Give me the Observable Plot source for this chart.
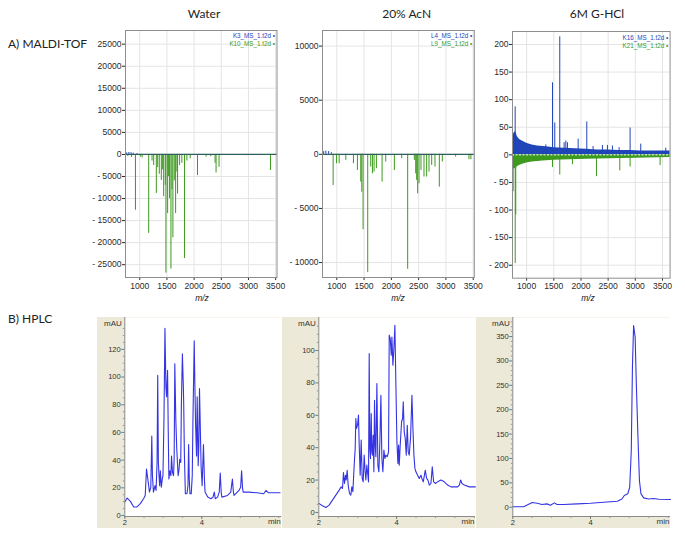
<!DOCTYPE html>
<html><head><meta charset="utf-8">
<script src="https://cdn.jsdelivr.net/npm/d3@7"></script>
<script src="https://cdn.jsdelivr.net/npm/@observablehq/plot@0.6"></script>
<style>
body{margin:0;background:#fff;}
#fig{position:relative;width:685px;height:536px;overflow:hidden;background:#fff;font-family:Lato,"Liberation Sans",sans-serif;}
.lbl{position:absolute;white-space:nowrap;color:#222;line-height:1;}
#fig svg{position:absolute;}
</style></head><body><div id="fig"></div>
<script>
// ---------- data ----------
const mzTicks = [1000, 1500, 2000, 2500, 3000, 3500];

// MALDI-TOF, Water
const waterGreenMz = [780,850,921,1012,1043,1165,1226,1256,1305,1330,1360,1397,1421,1440,1470,1482,1513,1531,1549,1574,1592,1610,1635,1660,1684,1696,1733,1775,1824,1867,1928,2062,2221,2306,2386,2404,2459,2954,3405];
const waterGreenInt = [-500,-700,-12650,-600,-800,-17900,-1500,-2500,-8840,-3000,-4500,-5900,-3500,-9600,-7000,-26900,-13400,-5000,-10000,-26000,-8000,-18900,-6000,-13400,-4000,-9000,-2500,-2000,-23600,-1500,-1000,-4800,-600,-500,-2000,-4200,-2900,-300,-3650];
const waterBlueMz = [760, 800, 840, 880, 950];
const waterBlueInt = [350, 450, 400, 300, 200];
const waterYTicks = [25000,20000,15000,10000,5000,0,-5000,-10000,-15000,-20000,-25000];

// MALDI-TOF, 20% AcN
const acnGreenMz = [933,994,1043,1165,1305,1378,1439,1458,1482,1567,1622,1653,1683,1726,1830,1897,2055,2190,2299,2421,2446,2464,2482,2507,2543,2598,2647,2690,2739,2800,2879,2934,3178,3422,3458];
const acnGreenInt = [-2880,-870,-870,-560,-870,-1490,-2570,-3500,-6970,-10930,-1180,-1800,-1640,-1330,-2570,-710,-1490,-400,-10620,-560,-1800,-2410,-3650,-2720,-1490,-2100,-2100,-1640,-1020,-1180,-3030,-710,-250,-500,-500];
const acnBlueMz = [760, 800, 850, 900];
const acnBlueInt = [250, 300, 250, 150];
const acnYTicks = [10000, 5000, 0, -5000, -10000];

// MALDI-TOF, 6M G-HCl
const ghclBlueMz = [789,1353,1476,1518,1610,1690,1721,1751,1948,2107,2223,2395,2487,2579,2702,2904,3100,3560];
const ghclBlueInt = [86.9,18,130.6,57.7,213.8,22,25,22,28.5,59.5,15,17,17,16,13,48.6,19.4,12];
const ghclGreenMz = [752,790,800,1476,1610,1843,2285,2714,2904,3456];
const ghclGreenInt = [-66.8,-197,-109,-23,-36.5,-18,-39.5,-29,-22,-19.5];
const ghclBlueNoiseMz = [740,770,800,830,870,920,1000,1100,1200,1300,1400,1500,1700,1900,2100,2300,2500,2700,2900,3100,3300,3500,3640];
const ghclBlueNoiseTop = [30,40,42,33,28,25,21,18,16,15,14,13,12,11,10,9,9,8,8,7,7,7,7];
const ghclGreenNoiseMz = [740,770,800,850,900,1000,1100,1300,1500,1800,2100,2500,3000,3640];
const ghclGreenNoiseBottom = [-20,-26,-24,-20,-18,-15,-13,-11,-10,-9,-8,-7,-6,-5];
const ghclYTicks = [200,150,100,50,0,-50,-100,-150,-200];

// HPLC, Water
const hplcWaterT = [2.000,2.060,2.145,2.231,2.316,2.402,2.487,2.530,2.564,2.598,2.641,2.675,2.701,2.718,2.744,2.786,2.812,2.838,2.855,2.872,2.889,2.906,2.923,2.949,2.974,2.991,3.017,3.043,3.068,3.085,3.111,3.128,3.145,3.171,3.197,3.214,3.239,3.265,3.282,3.299,3.325,3.350,3.385,3.410,3.427,3.453,3.470,3.496,3.521,3.530,3.547,3.573,3.615,3.641,3.658,3.675,3.692,3.726,3.752,3.769,3.803,3.821,3.838,3.863,3.880,3.906,3.923,3.940,3.966,3.983,4.009,4.043,4.068,4.085,4.154,4.239,4.291,4.325,4.350,4.410,4.453,4.479,4.504,4.521,4.667,4.752,4.795,4.821,4.838,4.966,5.009,5.034,5.060,5.077,5.222,5.436,5.607,5.667,5.735,6.034];
const hplcWaterV = [9.7,12.6,10.2,6.2,6.2,8.6,12.1,14.5,33.5,26.4,16.9,20.4,57.3,28.8,16.9,21.6,18.1,38.3,101.2,38.3,28.8,21.6,32.3,20.4,26.4,28.8,69.2,135.2,92.9,85.8,104.8,62.0,26.4,32.3,28.8,43.0,31.1,28.8,40.6,109.6,69.2,47.8,28.8,33.5,40.6,38.3,81.0,116.7,92.9,81.0,45.4,15.7,15.7,21.6,51.3,26.4,15.7,15.7,28.8,66.8,126.2,92.9,66.8,43.0,85.8,35.9,50.1,91.7,57.3,34.7,21.6,51.3,26.4,16.9,13.3,12.1,13.3,16.9,12.1,13.3,16.9,30.7,16.9,13.3,14.5,16.9,26.4,16.9,14.5,18.1,20.4,32.3,19.2,16.9,16.9,16.4,15.7,18.1,16.4,16.4];

// HPLC, 20% AcN
const hplcAcnT = [2.000,2.094,2.180,2.266,2.352,2.438,2.524,2.575,2.609,2.635,2.661,2.687,2.704,2.730,2.755,2.790,2.824,2.850,2.876,2.910,2.936,2.953,2.970,2.996,3.021,3.039,3.064,3.090,3.116,3.142,3.167,3.193,3.210,3.236,3.262,3.279,3.296,3.313,3.330,3.348,3.365,3.382,3.399,3.416,3.433,3.451,3.468,3.494,3.519,3.545,3.571,3.597,3.622,3.648,3.674,3.700,3.725,3.760,3.794,3.811,3.837,3.863,3.880,3.906,3.931,3.957,3.983,4.009,4.034,4.052,4.069,4.094,4.129,4.155,4.172,4.197,4.223,4.249,4.275,4.300,4.326,4.361,4.395,4.421,4.446,4.472,4.498,4.541,4.584,4.627,4.652,4.687,4.738,4.773,4.807,4.841,4.884,4.918,4.953,4.996,5.056,5.142,5.227,5.313,5.399,5.485,5.571,5.614,5.648,5.682,5.742,5.871,6.026];
const hplcAcnV = [5.6,4.1,3.1,4.5,7.6,10.7,13.8,15.8,14.8,24.7,17.9,23.0,20.0,26.1,16.9,11.7,10.7,15.8,12.8,29.2,39.5,58.0,51.9,53.9,60.1,41.6,23.0,44.7,21.0,18.9,35.4,25.1,20.0,29.2,23.0,18.9,98.1,39.5,33.3,61.1,37.4,35.4,47.7,25.1,69.3,41.6,34.4,79.6,29.2,25.1,43.6,72.4,33.3,25.1,38.5,33.3,35.4,34.4,37.4,109.5,107.4,97.1,108.4,90.9,101.2,115.6,78.6,43.6,30.2,41.6,29.2,41.6,56.0,58.0,68.3,49.8,45.7,35.4,53.9,37.4,35.4,46.7,72.4,51.9,35.4,27.2,25.1,23.0,21.0,23.0,21.0,18.9,26.1,21.0,20.0,16.9,17.9,28.2,18.9,17.9,18.9,20.0,18.9,16.9,15.8,15.8,15.8,16.9,20.0,17.9,16.9,15.8,15.8];

// HPLC, 6M G-HCl
const hplcGhclT = [2.00,2.28,2.50,2.63,2.75,2.88,2.97,3.07,3.14,3.31,3.66,4.00,4.34,4.69,4.81,4.87,4.96,5.01,5.05,5.08,5.11,5.15,5.18,5.22,5.26,5.30,5.37,5.50,5.63,5.76,6.06];
const hplcGhclV = [1,1,9.6,8.3,5.5,6.9,4.2,8.9,5.5,5.5,6.9,8.3,10.3,12.4,17,24,27.4,41,116,287,372.5,348.7,253,150,54.8,27.4,19.2,17,17.8,16.5,15.8];

const hplcXTicks = [2, 4];
const hplcXMinor = [2.5, 3, 3.5, 4.5, 5, 5.5, 6];

// ---------- style ----------
const GREEN = "#3c9a1c", BLUE = "#1f45b8", LINE = "#3434e4", TAN = "#ece9d8";
const fig = document.getElementById("fig");
const pairs = (xs, ys, kx, ky) => xs.map((x, i) => ({[kx]: x, [ky]: ys[i]}));

function label(text, x, y, o = {}) {
  const d = document.createElement("div");
  d.className = "lbl";
  d.textContent = text;
  d.style.left = x + "px";
  d.style.top = y + "px";
  d.style.fontSize = (o.size || 12) + "px";
  if (o.italic) d.style.fontStyle = "italic";
  if (o.family) d.style.fontFamily = o.family;
  d.style.transform = `translate(${o.anchor === "start" ? "0" : "-50%"}, -50%)`;
  fig.appendChild(d);
}

function maldi(o) {
  const mL = 48, mT = 4, mR = 6, mB = 20;
  const fw = o.x1 - o.x0, fh = o.y1 - o.y0;
  const green = pairs(o.greenMz, o.greenInt, "mz", "i");
  const blue = pairs(o.blueMz, o.blueInt, "mz", "i");
  const marks = [
    Plot.gridX(mzTicks, {stroke: "#e4e4e4", strokeOpacity: 1}),
    Plot.gridY(o.yTicks, {stroke: "#e4e4e4", strokeOpacity: 1})
  ];
  if (o.blueNoise) {
    marks.push(Plot.areaY(pairs(o.blueNoise[0], o.blueNoise[1], "mz", "i"), {x: "mz", y1: 0, y2: "i", fill: BLUE, curve: "linear"}));
    marks.push(Plot.areaY(pairs(o.greenNoise[0], o.greenNoise[1], "mz", "i"), {x: "mz", y1: 0, y2: "i", fill: GREEN, curve: "linear"}));
  }
  marks.push(
    Plot.ruleX(green, {x: "mz", y1: 0, y2: "i", stroke: GREEN, strokeWidth: 1}),
    Plot.ruleX(blue, {x: "mz", y1: 0, y2: "i", stroke: BLUE, strokeWidth: 1})
  );
  if (o.blueNoise) {
    marks.push(Plot.ruleY([0], {stroke: "white", strokeDasharray: "2,1.5", strokeWidth: 1}));
  } else {
    marks.push(Plot.ruleY([0], {stroke: "#2f5e5e", strokeWidth: 1.3}));
  }
  marks.push(
    Plot.frame({stroke: "#8e8e8e"}),
    Plot.text([o.legend[0] + " \u2022"], {frameAnchor: "top-right", textAnchor: "end", lineAnchor: "middle", dx: -2, dy: o.legendDy, fill: BLUE, fontSize: 6.3}),
    Plot.text([o.legend[1] + " \u2022"], {frameAnchor: "top-right", textAnchor: "end", lineAnchor: "middle", dx: -2, dy: o.legendDy + 8, fill: GREEN, fontSize: 6.3})
  );
  const p = Plot.plot({
    width: fw + mL + mR, height: fh + mT + mB,
    marginLeft: mL, marginTop: mT, marginRight: mR, marginBottom: mB,
    x: {domain: o.xDomain, ticks: mzTicks, tickSize: 3, tickPadding: 2, label: null, tickFormat: d => String(d)},
    y: {domain: o.yDomain, ticks: o.yTicks, tickSize: 3, tickPadding: 1, label: null,
        tickFormat: d => d < 0 ? "- " + (-d) : String(d)},
    style: {fontFamily: "'Liberation Sans', Arial, sans-serif", fontSize: "8.6px", color: "#2a2a2a", background: "transparent", overflow: "visible"},
    marks
  });
  p.style.left = (o.x0 - mL) + "px";
  p.style.top = (o.y0 - mT) + "px";
  fig.appendChild(p);
}

function hplc(o) {
  const top = 317, axisY = 516, bottom = 528;
  const mL = o.px0 - o.tx0, W = o.px1 - o.tx0, H = bottom - top, mB = bottom - axisY;
  const data = pairs(o.t, o.v, "t", "v");
  const p = Plot.plot({
    width: W, height: H, marginLeft: mL, marginRight: 0, marginTop: 0, marginBottom: mB,
    x: {domain: o.xDomain, label: null},
    y: {domain: o.yDomain, label: null},
    style: {background: TAN, fontFamily: "'Liberation Sans', Arial, sans-serif", fontSize: "7.6px", color: "#333", overflow: "visible"},
    marks: [
      Plot.frame({fill: "white", stroke: null}),
      Plot.line(data, {x: "t", y: "v", stroke: LINE, strokeWidth: 1.1}),
      Plot.ruleX([o.xDomain[0]], {stroke: "#8a8a8a"}),
      Plot.ruleY([o.yDomain[0]], {stroke: "#8a8a8a"}),
      Plot.axisY({ticks: o.yTicks, tickSize: 3, tickPadding: 1, stroke: "#777", tickFormat: d => String(d)}),
      Plot.axisY({ticks: o.yMinor, tickSize: 1.5, stroke: "#999", tickFormat: () => ""}),
      Plot.axisX({ticks: hplcXTicks, tickSize: 3, tickPadding: 0, stroke: "#777", tickFormat: d => String(d)}),
      Plot.axisX({ticks: hplcXMinor, tickSize: 2, stroke: "#999", tickFormat: () => ""}),
      Plot.text(["min"], {frameAnchor: "bottom-right", textAnchor: "end", lineAnchor: "top", dx: -1, dy: 2, fontSize: 8, fill: "#333"}),
      Plot.text(["mAU"], {frameAnchor: "top-left", textAnchor: "end", lineAnchor: "middle", dx: -3, dy: 5.5, fontSize: 8, fill: "#333"})
    ]
  });
  p.style.left = o.tx0 + "px";
  p.style.top = top + "px";
  fig.appendChild(p);
}

// ---------- MALDI panels ----------
maldi({x0: 125, x1: 276.5, y0: 30, y1: 277, xDomain: [738, 3525], yDomain: [-27900, 28100],
  yTicks: waterYTicks, greenMz: waterGreenMz, greenInt: waterGreenInt, blueMz: waterBlueMz, blueInt: waterBlueInt,
  legend: ["K3_MS_1.t2d", "K10_MS_1.t2d"], legendDy: 5.5});
maldi({x0: 321.7, x1: 473.5, y0: 30, y1: 277, xDomain: [738, 3520], yDomain: [-11380, 11440],
  yTicks: acnYTicks, greenMz: acnGreenMz, greenInt: acnGreenInt, blueMz: acnBlueMz, blueInt: acnBlueInt,
  legend: ["L4_MS_1.t2d", "L9_MS_1.t2d"], legendDy: 5.5});
maldi({x0: 511.7, x1: 669.3, y0: 31.3, y1: 278, xDomain: [740, 3640], yDomain: [-223.5, 223.5],
  yTicks: ghclYTicks, greenMz: ghclGreenMz, greenInt: ghclGreenInt, blueMz: ghclBlueMz, blueInt: ghclBlueInt,
  blueNoise: [ghclBlueNoiseMz, ghclBlueNoiseTop], greenNoise: [ghclGreenNoiseMz, ghclGreenNoiseBottom],
  legend: ["K16_MS_1.t2d", "K21_MS_1.t2d"], legendDy: 6.5});

// ---------- HPLC panels ----------
hplc({tx0: 96.7, px0: 124, px1: 281, xDomain: [2, 6.078], yDomain: [-0.7, 143],
  yTicks: [0,20,40,60,80,100,120], yMinor: d3.range(5, 141, 5).filter(d => d % 20),
  t: hplcWaterT, v: hplcWaterV});
hplc({tx0: 282, px0: 318.3, px1: 475, xDomain: [2, 6.03], yDomain: [-2.5, 120.4],
  yTicks: [0,20,40,60,80,100], yMinor: d3.range(5, 120, 5).filter(d => d % 20),
  t: hplcAcnT, v: hplcAcnV});
hplc({tx0: 476, px0: 512.3, px1: 670, xDomain: [2, 6.06], yDomain: [-19, 389],
  yTicks: [0,50,100,150,200,250,300,350], yMinor: d3.range(10, 385, 10).filter(d => d % 50),
  t: hplcGhclT, v: hplcGhclV});

// ---------- text ----------
label("Water", 204, 13.5, {size: 12});
label("20% AcN", 406.7, 13.5, {size: 12});
label("6M G-HCl", 597, 13.5, {size: 12});
label("A) MALDI-TOF", 8, 43.5, {size: 12, anchor: "start"});
label("B) HPLC", 8, 318.5, {size: 12, anchor: "start"});
label("m/z", 202, 298, {size: 8.5, italic: true, family: "'Liberation Sans', Arial, sans-serif"});
label("m/z", 398, 298, {size: 8.5, italic: true, family: "'Liberation Sans', Arial, sans-serif"});
label("m/z", 588, 298, {size: 8.5, italic: true, family: "'Liberation Sans', Arial, sans-serif"});
</script></body></html>
